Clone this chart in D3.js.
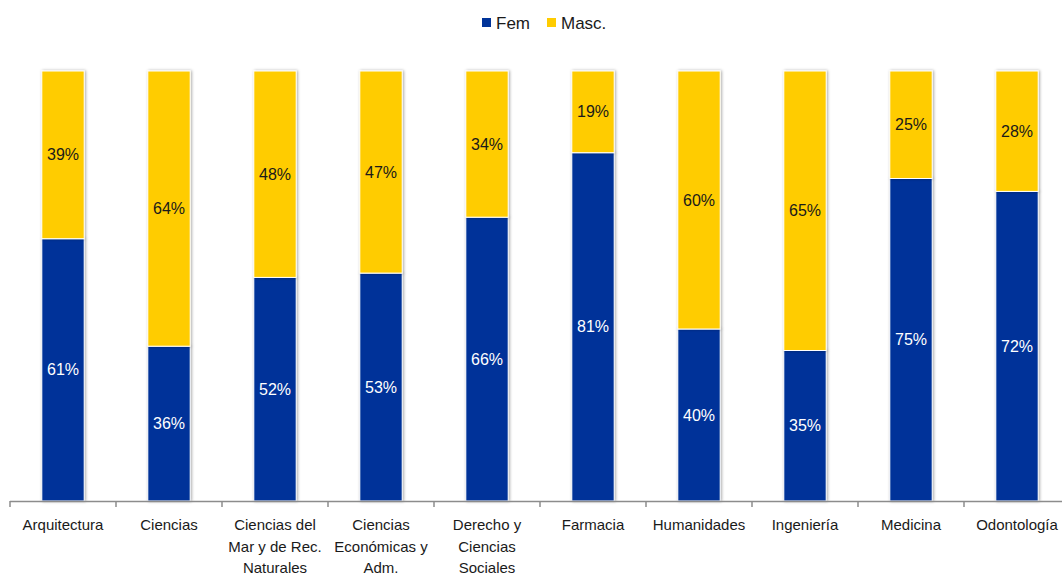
<!DOCTYPE html>
<html>
<head>
<meta charset="utf-8">
<script src="https://cdnjs.cloudflare.com/ajax/libs/d3/7.8.5/d3.min.js"></script>
<style>
  body { margin: 0; background: #fff; }
  svg { font-family: "Liberation Sans", Arial, sans-serif; }
  .barText { font-size: 16px; text-anchor: middle; dominant-baseline: central; }
  .catLabel { font-size: 15px; fill: #1a1a1a; text-anchor: middle; }
  .legendText { font-size: 17px; fill: #1a1a1a; }
</style>
</head>
<body>
<div id="chart"></div>
<script>
// Chart data
var categories = ["Arquitectura", "Ciencias", "Ciencias del Mar y de Rec. Naturales",
  "Ciencias Económicas y Adm.", "Derecho y Ciencias Sociales", "Farmacia",
  "Humanidades", "Ingeniería", "Medicina", "Odontología"];
var fem = [61, 36, 52, 53, 66, 81, 40, 35, 75, 72];
var masc = [39, 64, 48, 47, 34, 19, 60, 65, 25, 28];
var seriesNames = ["Fem", "Masc."];

var svgWidth = 1062;
var svgHeight = 573;

var colors = { "Fem": "#003399", "Masc.": "#FFCC00" };
var textColors = { "Fem": "#ffffff", "Masc.": "#1a1a1a" };

var svg = d3.select("#chart")
  .append("svg")
  .attr("width", svgWidth)
  .attr("height", svgHeight);

// soft shadow round the bars
var defs = svg.append("defs");
var filter = defs.append("filter")
  .attr("id", "shadow")
  .attr("x", "-30%").attr("y", "-5%")
  .attr("width", "160%").attr("height", "110%");
filter.append("feDropShadow")
  .attr("dx", 1)
  .attr("dy", 0)
  .attr("stdDeviation", 1.6)
  .attr("flood-color", "#000")
  .attr("flood-opacity", 0.35);

// Scales
var xScale = d3.scaleBand()
  .domain(categories)
  .range([10, 1070])
  .paddingInner(0.6)
  .paddingOuter(0.3);

var yScale = d3.scaleLinear()
  .domain([0, 100])
  .range([501, 71]);

// Build stacked rows
var rows = categories.map((c, i) => ({ cat: c, "Fem": fem[i], "Masc.": masc[i] }));
var stacked = d3.stack().keys(seriesNames)(rows);

var barGroup = svg.append("g");

stacked.forEach(function (layer) {
  var key = layer.key;
  var g = barGroup.append("g");

  g.selectAll("rect")
    .data(layer)
    .enter()
    .append("rect")
    .attr("x", d => xScale(d.data.cat))
    .attr("y", d => yScale(d[1]))
    .attr("width", xScale.bandwidth())
    .attr("height", d => yScale(d[0]) - yScale(d[1]))
    .attr("fill", colors[key])
    .attr("stroke", "#fff")
    .attr("stroke-width", 1)
    .attr("filter", "url(#shadow)");

  g.selectAll("text")
    .data(layer)
    .enter()
    .append("text")
    .attr("class", "barText")
    .attr("x", d => xScale(d.data.cat) + xScale.bandwidth() / 2)
    .attr("y", d => (yScale(d[0]) + yScale(d[1])) / 2)
    .attr("fill", textColors[key])
    .text(d => d.data[key] + "%");
});

// X axis: line with ticks on category boundaries
var axisG = svg.append("g");
var step = xScale.step();
var bounds = categories.map(c => xScale(c) - xScale.paddingInner() * step / 2 - 0.5 * step * 0 );
bounds = categories.map((c, i) => xScale.range()[0] + i * step);

axisG.append("line")
  .attr("x1", 10).attr("x2", svgWidth)
  .attr("y1", 501.5).attr("y2", 501.5)
  .attr("stroke", "#8c8c8c")
  .attr("stroke-width", 1.5);

axisG.selectAll(".tick")
  .data(bounds)
  .enter()
  .append("line")
  .attr("x1", d => d).attr("x2", d => d)
  .attr("y1", 501).attr("y2", 507)
  .attr("stroke", "#8c8c8c")
  .attr("stroke-width", 1.5);

// Category labels, wrapped
var labels = axisG.selectAll(".catLabel")
  .data(categories)
  .enter()
  .append("text")
  .attr("class", "catLabel")
  .attr("x", d => xScale(d) + xScale.bandwidth() / 2)
  .attr("y", 530);

labels.each(function (d) {
  var text = d3.select(this);
  var words = d.split(" ");
  var line = [];
  var lineNo = 0;
  var x = text.attr("x");
  var tspan = text.append("tspan").attr("x", x).attr("dy", 0);
  words.forEach(function (w) {
    line.push(w);
    tspan.text(line.join(" "));
    if (tspan.node().getComputedTextLength() > 100 && line.length > 1) {
      line.pop();
      tspan.text(line.join(" "));
      line = [w];
      lineNo++;
      tspan = text.append("tspan").attr("x", x).attr("dy", 21.5).text(w);
    }
  });
});

// Legend
var legendItems = [
  { name: "Fem", x: 482 },
  { name: "Masc.", x: 547 }
];
var legend = svg.append("g");
legend.selectAll("rect")
  .data(legendItems)
  .enter()
  .append("rect")
  .attr("x", d => d.x)
  .attr("y", 18)
  .attr("width", 9)
  .attr("height", 9)
  .attr("fill", d => colors[d.name]);
legend.selectAll("text")
  .data(legendItems)
  .enter()
  .append("text")
  .attr("class", "legendText")
  .attr("x", d => d.x + 14)
  .attr("y", 28.5)
  .text(d => d.name);
</script>
</body>
</html>
